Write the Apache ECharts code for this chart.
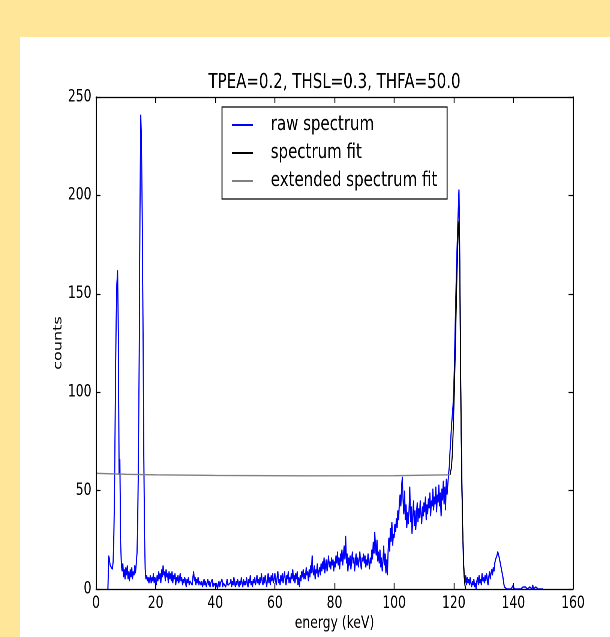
<!DOCTYPE html>
<html>
<head>
<meta charset="utf-8">
<script src="https://cdn.jsdelivr.net/npm/echarts@6/dist/echarts.min.js"></script>
<style>
html,body{margin:0;padding:0;background:#FFE699;overflow:hidden;width:610px;height:637px;}
#panel{position:absolute;left:20px;top:37px;width:590px;height:600px;background:#ffffff;}
#chart{position:absolute;left:0;top:0;width:814px;height:637px;transform:scaleX(0.75);transform-origin:0 0;}
</style>
</head>
<body>
<div id="panel"></div>
<div id="chart"></div>
<script>
// ---- data ----
const titleText = 'TPEA=0.2, THSL=0.3, THFA=50.0';
const xTicks = [0, 20, 40, 60, 80, 100, 120, 140, 160];
const yTicks = [0, 50, 100, 150, 200, 250];
const seriesNames = ['raw spectrum', 'spectrum fit', 'extended spectrum fit'];

// raw spectrum: channel energies start at 4.0 keV, 0.25 keV per channel
const rawStartKeV = 4.0;
const rawStepKeV = 0.25;
const raw_4 = [0, 17, 15, 12];
const raw_5 = [11, 13, 10, 14, 28, 55, 100, 135, 155, 162, 128, 58, 66, 24, 13, 9, 13, 6, 10, 5];
const raw_10 = [11, 7, 12, 5, 9, 4, 10, 6, 11, 5, 9, 7, 12, 8, 13, 18, 35, 70, 120, 192];
const raw_15 = [241, 228, 190, 138, 75, 30, 10, 5, 7, 4, 6, 3, 5, 7, 3, 6, 4, 8, 3, 6];
const raw_20 = [5, 2, 7, 4, 9, 5, 8, 3, 10, 6, 12, 7, 9, 4, 10, 6, 8, 3, 9, 5];
const raw_25 = [8, 4, 9, 3, 7, 5, 8, 2, 6, 4, 7, 3, 5, 8, 4, 6, 2, 5, 3, 6];
const raw_30 = [4, 1, 5, 3, 6, 2, 4, 3, 5, 2, 6, 9, 4, 6, 2, 5, 3, 6, 2, 4];
const raw_35 = [5, 2, 4, 1, 3, 5, 2, 4, 1, 3, 5, 2, 4, 1, 3, 2, 5, 1, 3, 2];
const raw_40 = [4, 1, 3, 0, 2, 4, 1, 3, 2, 5, 1, 3, 2, 4, 1, 3, 5, 2, 3, 1];
const raw_45 = [3, 5, 1, 4, 2, 6, 3, 1, 4, 2, 5, 3, 1, 4, 2, 6, 3, 1, 5, 2];
const raw_50 = [4, 2, 6, 3, 1, 5, 3, 7, 2, 4, 1, 5, 3, 6, 2, 4, 7, 3, 5, 2];
const raw_55 = [6, 3, 8, 4, 2, 6, 3, 7, 4, 1, 5, 8, 3, 6, 2, 7, 4, 8, 3, 5];
const raw_60 = [8, 4, 2, 6, 9, 3, 5, 2, 7, 4, 8, 3, 6, 9, 4, 2, 7, 5, 9, 3];
const raw_65 = [6, 3, 8, 5, 10, 4, 7, 3, 8, 5, 9, 2, 6, 1, 7, 4, 9, 6, 10, 5];
const raw_70 = [8, 5, 11, 7, 9, 4, 10, 6, 12, 8, 17, 9, 7, 12, 5, 10, 8, 13, 6, 9];
const raw_75 = [11, 7, 13, 9, 14, 10, 16, 8, 12, 15, 9, 13, 17, 11, 14, 10, 16, 12, 15, 9];
const raw_80 = [14, 11, 17, 13, 19, 12, 16, 10, 18, 14, 20, 12, 17, 22, 15, 27, 13, 18, 9, 16];
const raw_85 = [12, 17, 10, 15, 19, 13, 16, 9, 14, 18, 12, 16, 11, 15, 19, 13, 10, 16, 14, 18];
const raw_90 = [13, 17, 11, 15, 12, 18, 14, 10, 16, 13, 20, 15, 24, 18, 29, 21, 17, 25, 14, 19];
const raw_95 = [13, 20, 11, 16, 9, 14, 22, 12, 18, 8, 15, 7, 20, 26, 19, 31, 24, 34, 22, 28];
const raw_100 = [26, 33, 29, 36, 31, 40, 35, 44, 48, 42, 52, 57, 45, 38, 50, 35, 43, 31, 39, 33];
const raw_105 = [40, 52, 34, 42, 28, 37, 45, 32, 40, 30, 38, 44, 34, 41, 36, 45, 38, 33, 42, 37];
const raw_110 = [44, 39, 47, 35, 43, 38, 46, 41, 49, 37, 45, 42, 51, 40, 47, 43, 52, 39, 48, 44];
const raw_115 = [53, 42, 49, 37, 51, 45, 55, 43, 52, 40, 56, 48, 53, 58, 62, 70, 76, 83, 88, 93];
const raw_120 = [102, 115, 135, 152, 168, 180, 192, 203, 172, 120, 80, 52, 30, 14, 6, 3, 7, 2, 6, 3];
const raw_125 = [5, 2, 6, 3, 1, 4, 2, 5, 1, 3, 0, 4, 6, 2, 7, 3, 5, 2, 8, 4];
const raw_130 = [6, 3, 7, 4, 8, 5, 2, 6, 9, 5, 8, 10, 7, 11, 9, 13, 15, 14, 17, 19];
const raw_135 = [18, 16, 17, 12, 13, 8, 6, 3, 1, 0, 0, 0, 0, 0, 0, 0, 0, 0, 0, 0];
const raw_140 = [2, 0, 0, 0, 0, 0, 0, 0, 0, 0, 0, 0, 0, 1, 0, 0, 1, 0, 0, 0];
const raw_145 = [0, 0, 1, 0, 0, 0, 2, 0, 0, 0, 1, 0, 0, 0, 1, 0, 0, 0, 1, 0];
const raw_150 = [0];

// spectrum fit
const fitEnergy = [118.75, 119.0, 119.25, 119.5, 119.75, 120.0, 120.25, 120.5, 120.75, 121.0, 121.25, 121.5, 121.75, 122.0, 122.25, 122.5, 122.75, 123.0, 123.25, 123.5, 123.75, 124.0];
const fitCounts = [58, 59, 62, 68, 78, 90, 104, 120, 138, 155, 170, 182, 187, 168, 118, 78, 50, 30, 16, 7, 2, 0];

// extended spectrum fit
const extEnergy = [0, 10, 20, 40, 70, 100, 118.75];
const extCounts = [58.8, 58.3, 58.0, 57.7, 57.5, 57.6, 58.0];

// ---- build ----
const rawCounts = [].concat(raw_4, raw_5, raw_10, raw_15, raw_20, raw_25, raw_30, raw_35, raw_40, raw_45,
  raw_50, raw_55, raw_60, raw_65, raw_70, raw_75, raw_80, raw_85, raw_90, raw_95, raw_100, raw_105,
  raw_110, raw_115, raw_120, raw_125, raw_130, raw_135, raw_140, raw_145, raw_150);
const rawData = rawCounts.map((c, i) => [rawStartKeV + rawStepKeV * i, c]);
const fitData = fitEnergy.map((e, i) => [e, fitCounts[i]]);
const extData = extEnergy.map((e, i) => [e, extCounts[i]]);

const FONT = 'DejaVu Sans';
const axisLineStyle = { color: '#000', width: 1.3 };
function xAxisCfg(pos, labels) {
  return {
    type: 'value', position: pos, min: xTicks[0], max: xTicks[xTicks.length - 1],
    interval: xTicks[1] - xTicks[0], z: 10,
    axisLine: { show: true, onZero: false, lineStyle: axisLineStyle },
    axisTick: { show: true, inside: true, length: 6, lineStyle: { color: '#000', width: 1.2 } },
    axisLabel: { show: labels, color: '#000', fontSize: 16.5, fontFamily: FONT, margin: 6 },
    splitLine: { show: false },
    name: labels ? 'energy (keV)' : '', nameLocation: 'middle', nameGap: 26, nameMoveOverlap: false,
    nameTextStyle: { color: '#000', fontSize: 16.5, fontFamily: FONT }
  };
}
function yAxisCfg(pos, labels) {
  return {
    type: 'value', position: pos, min: yTicks[0], max: yTicks[yTicks.length - 1],
    interval: yTicks[1] - yTicks[0], z: 10,
    axisLine: { show: true, onZero: false, lineStyle: axisLineStyle },
    axisTick: { show: true, inside: true, length: 6, lineStyle: { color: '#000', width: 1.2 } },
    axisLabel: { show: labels, color: '#000', fontSize: 16.5, fontFamily: FONT, margin: 6 },
    splitLine: { show: false },
    name: labels ? 'counts' : '', nameLocation: 'middle', nameGap: 42, nameMoveOverlap: false,
    nameTextStyle: { color: '#000', fontSize: 16, fontFamily: FONT }
  };
}

const chart = echarts.init(document.getElementById('chart'), null, { renderer: 'canvas', devicePixelRatio: 2 });
chart.setOption({
  animation: false,
  backgroundColor: 'transparent',
  title: {
    text: titleText, left: 446, top: 73, textAlign: 'center', padding: 0,
    textStyle: { fontSize: 20, fontWeight: 'normal', color: '#000', fontFamily: FONT }
  },
  legend: {
    orient: 'vertical', left: 296, top: 107, icon: 'rect', itemWidth: 28, itemHeight: 2, itemGap: 8,
    padding: [8, 13, 8, 13], backgroundColor: '#fff', borderColor: '#000', borderWidth: 1.3,
    selectedMode: false, data: seriesNames,
    textStyle: { fontSize: 20, lineHeight: 20, color: '#000', fontFamily: FONT, padding: [0, 0, 0, 19] }
  },
  grid: { left: 128, right: 50, top: 97, bottom: 47, containLabel: false },
  xAxis: [xAxisCfg('bottom', true), xAxisCfg('top', false)],
  yAxis: [yAxisCfg('left', true), yAxisCfg('right', false)],
  series: [
    { name: seriesNames[0], type: 'line', data: rawData, color: '#0000ff', showSymbol: false, symbol: 'none',
      lineStyle: { color: '#0000ff', width: 1.5 }, z: 2 },
    { name: seriesNames[1], type: 'line', data: fitData, color: '#000000', showSymbol: false, symbol: 'none',
      lineStyle: { color: '#000000', width: 1.4 }, z: 3 },
    { name: seriesNames[2], type: 'line', data: extData, color: '#808080', showSymbol: false, symbol: 'none',
      lineStyle: { color: '#808080', width: 1.4 }, z: 4 }
  ]
});
</script>
</body>
</html>
